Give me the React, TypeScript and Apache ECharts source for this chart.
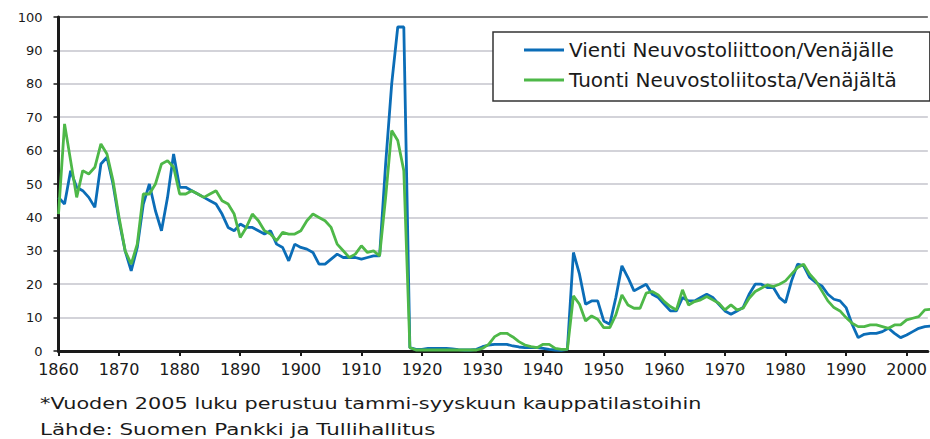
import React, { useEffect, useRef } from "react";
import * as echarts from "echarts";

const firstYear = 1860;
const lastYear = 2005;
const yearTicks = [1860, 1870, 1880, 1890, 1900, 1910, 1920, 1930, 1940, 1950, 1960, 1970, 1980, 1990, 2000];
const yTicks = [0, 10, 20, 30, 40, 50, 60, 70, 80, 90, 100];

const seriesNames = ["Vienti Neuvostoliittoon/Venäjälle", "Tuonti Neuvostoliitosta/Venäjältä"];

// Exports to the Soviet Union / Russia, share %, 1860–2005
const exportsShare = [
  46, 44, 54, 49, 48, 46, 43, 56, 58, 50,
  39, 30, 24, 31, 44, 50, 42, 36, 46, 59,
  49, 49, 48, 47, 46, 45, 44, 41, 37, 36,
  38, 37, 37, 36, 35, 36, 32, 31, 27, 32,
  31, 30.5, 29.5, 26, 26, 27.5, 29, 28, 28, 28,
  27.5, 28, 28.5, 28.5, 56, 80, 97, 97, 1, 0.5,
  0.5, 0.8, 0.8, 0.8, 0.8, 0.6, 0.4, 0.3, 0.3, 0.5,
  1.3, 1.8, 2, 2, 2, 1.5, 1.2, 1, 1, 1,
  0.8, 0.5, 0.3, 0.2, 0.5, 29.5, 23, 14, 15, 15,
  9, 8, 16, 25.5, 22, 18, 19, 20, 17, 16,
  14, 12, 12, 16, 15, 15, 16, 17, 16, 14,
  12, 11, 12, 13, 17, 20, 20, 19, 19, 16,
  14.5, 21, 26, 25.5, 22, 20.5, 19.5, 17, 15.5, 15,
  13, 8, 4, 5, 5.3, 5.3, 5.8, 6.8, 5.3, 4,
  4.8, 5.8, 6.8, 7.3, 7.5, 8,
];

// Imports from the Soviet Union / Russia, share %, 1860–2005
const importsShare = [
  41, 68, 57, 46, 54, 53, 55, 62, 59, 51,
  40, 30, 26, 32, 47, 47, 50, 56, 57, 55,
  47, 47, 48, 47, 46, 47, 48, 45, 44, 41,
  34, 37, 41, 39, 36, 35, 33, 35.5, 35, 35,
  36, 39, 41, 40, 39, 37, 32, 30, 28, 29,
  31.5, 29.5, 30, 28.5, 46, 66, 63, 54, 1, 0.3,
  0.3, 0.3, 0.3, 0.3, 0.3, 0.3, 0.3, 0.3, 0.3, 0.3,
  0.8, 2, 4.3, 5.3, 5.3, 4.2, 2.8, 1.8, 1.3, 1,
  2, 2, 0.8, 0.5, 0.5, 16.5, 14, 9, 10.5, 9.5,
  7, 7, 10.8, 16.8, 13.8, 12.8, 12.8, 17.3, 17.8, 16.8,
  14.8, 13.3, 12.3, 18.3, 13.8, 14.8, 15.3, 16.3, 15.3, 14.3,
  12.3, 13.8, 12.3, 12.8, 15.8, 17.8, 18.8, 19.8, 19.3, 20,
  21, 23, 25, 26, 23, 21, 18, 15, 13, 12,
  10, 8.3, 7.3, 7.3, 7.8, 7.8, 7.3, 6.8, 7.8, 7.8,
  9.3, 9.8, 10.3, 12.3, 12.5, 13,
];

const footnote1 = "*Vuoden 2005 luku perustuu tammi-syyskuun kauppatilastoihin";
const footnote2 = "Lähde: Suomen Pankki ja Tullihallitus";

const years: number[] = [];
for (let y = firstYear; y <= lastYear; y++) years.push(y);

const FONT = "DejaVu Sans";

export default function App() {
  const ref = useRef<HTMLDivElement>(null);
  useEffect(() => {
    if (!ref.current) return;
    const chart = echarts.init(ref.current, undefined, { renderer: "svg" });
    const gridColors = yTicks.map((v, i) => (i === yTicks.length - 1 ? "#4a4a4a" : "#c4c4cc"));
    chart.setOption({
      animation: false,
      backgroundColor: "#ffffff",
      color: ["#0b6db7", "#4eb848"],
      grid: { left: 58.5, right: 0, top: 17, bottom: 88, containLabel: false },
      legend: {
        orient: "vertical",
        left: 493,
        top: 32,
        padding: [8, 33, 11, 31],
        itemGap: 10,
        itemWidth: 40,
        itemHeight: 3,
        itemTextGap: 6,
        icon: "rect",
        backgroundColor: "#ffffff",
        borderColor: "#333333",
        borderWidth: 1.5,
        borderRadius: 0,
        textStyle: { fontFamily: FONT, fontSize: 20, lineHeight: 20, color: "#1a1a1a" },
        data: seriesNames,
      },
      xAxis: {
        type: "value",
        min: 1860,
        max: 2003.5,
        interval: 10,
        axisLine: { show: true, lineStyle: { color: "#1a1a1a", width: 3 } },
        axisTick: { show: true, inside: false, length: 5, lineStyle: { color: "#1a1a1a", width: 2 } },
        axisLabel: {
          fontFamily: FONT,
          fontSize: 16,
          color: "#1a1a1a",
          margin: 10,
          showMaxLabel: false,
          formatter: (v: number) => (yearTicks.includes(v) ? String(v) : ""),
        },
        splitLine: { show: false },
      },
      yAxis: {
        type: "value",
        min: 0,
        max: 100,
        interval: 10,
        axisLine: { show: true, lineStyle: { color: "#1a1a1a", width: 3 } },
        axisTick: { show: true, inside: false, length: 5, lineStyle: { color: "#1a1a1a", width: 1.5 } },
        axisLabel: {
          fontFamily: FONT,
          fontSize: 13,
          color: "#1a1a1a",
          margin: 16,
          padding: [0, 0, 4, 0],
        },
        splitLine: { show: true, lineStyle: { color: gridColors, width: 1.5 } },
      },
      series: [
        {
          name: seriesNames[0],
          type: "line",
          data: years.map((y, i) => [y, exportsShare[i]]),
          showSymbol: false,
          symbol: "none",
          lineStyle: { width: 2.8, color: "#0b6db7" },
          itemStyle: { color: "#0b6db7" },
          z: 2,
        },
        {
          name: seriesNames[1],
          type: "line",
          data: years.map((y, i) => [y, importsShare[i]]),
          showSymbol: false,
          symbol: "none",
          lineStyle: { width: 2.8, color: "#4eb848" },
          itemStyle: { color: "#4eb848" },
          z: 3,
        },
      ],
      graphic: [
        {
          type: "text",
          x: 40,
          y: 395,
          scaleX: 1.3,
          style: { text: footnote1, fontFamily: FONT, fontSize: 16, fill: "#1a1a1a", verticalAlign: "top" },
        },
        {
          type: "text",
          x: 40,
          y: 421,
          scaleX: 1.34,
          style: { text: footnote2, fontFamily: FONT, fontSize: 16, fill: "#1a1a1a", verticalAlign: "top" },
        },
      ],
    });
    return () => chart.dispose();
  }, []);
  return (
    <div
      ref={ref}
      style={{ position: "absolute", left: 0, top: 0, width: 930, height: 439 }}
    />
  );
}
